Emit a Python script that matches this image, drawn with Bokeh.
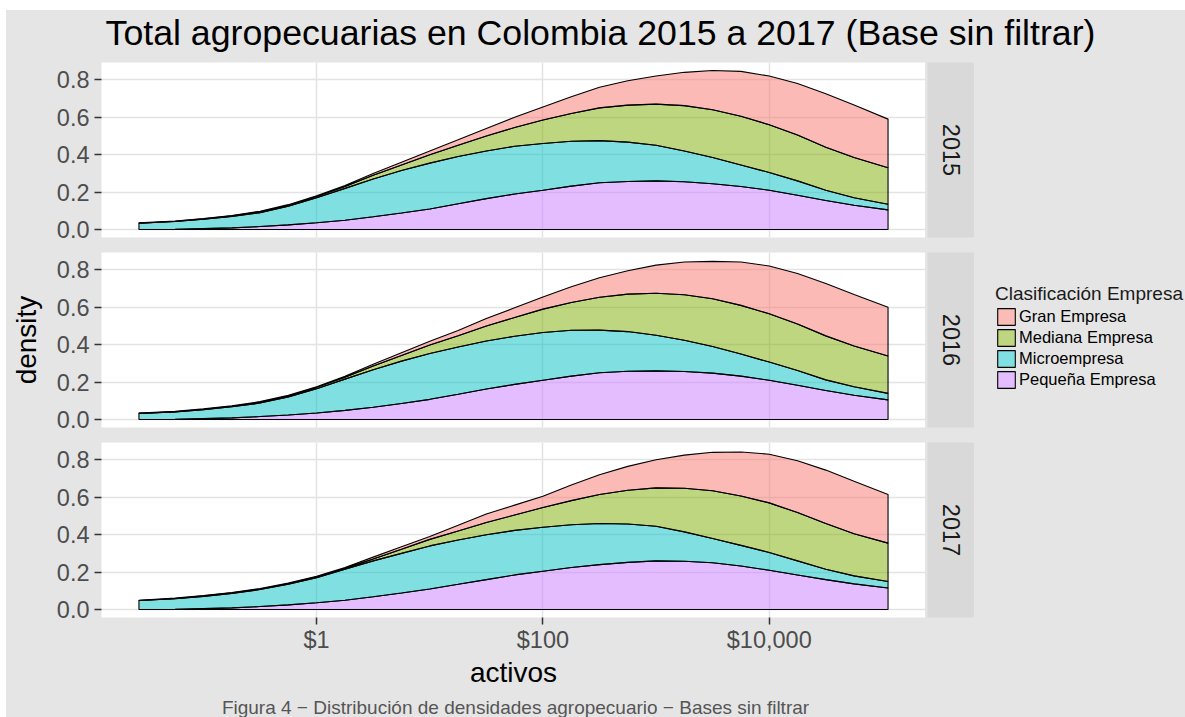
import numpy as np
from math import pi
from bokeh.plotting import figure
from bokeh.models import (Range1d, FixedTicker, NumeralTickFormatter, PrintfTickFormatter,
                          Label, Legend, LegendItem, Grid, Spacer)
from bokeh.layouts import column, row
from bokeh.embed import file_html
from bokeh.resources import INLINE

# ---------------- data ----------------
activos = [0.0269, 0.0562, 0.1, 0.178, 0.316, 0.562, 1, 1.78, 3.16, 5.62, 10, 17.8, 31.6, 56.2,
           100, 178, 316, 562, 1000, 1778, 3162, 5623, 10000, 17783, 31623, 56234, 112202]

years = ["2015", "2016", "2017"]
clases = ["Gran Empresa", "Mediana Empresa", "Microempresa", "Pequeña Empresa"]
colores = ["#F8766D", "#7CAE00", "#00BFC4", "#C77CFF"]
colores_leyenda = ["#FBBBB6", "#BDD67F", "#7FDFE1", "#E3BDFF"]

# densities per class (not stacked)
gran_2015    = [0.002, 0.002, 0.002, 0.002, 0.003, 0.003, 0.003, 0.005, 0.010, 0.015, 0.020, 0.030, 0.040, 0.055,
                0.070, 0.090, 0.110, 0.130, 0.150, 0.178, 0.210, 0.240, 0.260, 0.275, 0.285, 0.280, 0.260]
mediana_2015 = [0.000, 0.001, 0.002, 0.003, 0.005, 0.005, 0.007, 0.010, 0.020, 0.030, 0.045, 0.060, 0.080, 0.100,
                0.125, 0.148, 0.175, 0.198, 0.220, 0.242, 0.255, 0.260, 0.255, 0.245, 0.230, 0.215, 0.195]
micro_2015   = [0.034, 0.042, 0.050, 0.061, 0.074, 0.100, 0.134, 0.170, 0.202, 0.227, 0.245, 0.252, 0.255, 0.255,
                0.250, 0.240, 0.225, 0.210, 0.190, 0.165, 0.140, 0.115, 0.095, 0.077, 0.055, 0.040, 0.030]
pequena_2015 = [0.000, 0.001, 0.005, 0.009, 0.016, 0.025, 0.036, 0.050, 0.068, 0.088, 0.110, 0.138, 0.165, 0.190,
                0.210, 0.232, 0.250, 0.257, 0.260, 0.255, 0.245, 0.230, 0.210, 0.183, 0.155, 0.130, 0.105]

gran_2016    = [0.002, 0.002, 0.002, 0.002, 0.003, 0.003, 0.003, 0.005, 0.010, 0.015, 0.020, 0.028, 0.040, 0.052,
                0.065, 0.085, 0.105, 0.125, 0.150, 0.175, 0.200, 0.232, 0.255, 0.270, 0.280, 0.275, 0.260]
mediana_2016 = [0.000, 0.001, 0.002, 0.003, 0.005, 0.005, 0.007, 0.010, 0.020, 0.030, 0.045, 0.060, 0.080, 0.100,
                0.125, 0.148, 0.175, 0.200, 0.225, 0.243, 0.255, 0.260, 0.258, 0.248, 0.235, 0.218, 0.200]
micro_2016   = [0.033, 0.040, 0.048, 0.059, 0.072, 0.097, 0.130, 0.167, 0.200, 0.226, 0.245, 0.253, 0.257, 0.257,
                0.255, 0.245, 0.228, 0.212, 0.190, 0.167, 0.142, 0.118, 0.097, 0.079, 0.057, 0.045, 0.035]
pequena_2016 = [0.000, 0.001, 0.005, 0.009, 0.016, 0.024, 0.035, 0.049, 0.066, 0.086, 0.108, 0.135, 0.163, 0.188,
                0.210, 0.232, 0.250, 0.258, 0.260, 0.257, 0.248, 0.232, 0.210, 0.183, 0.155, 0.130, 0.105]

gran_2017    = [0.002, 0.002, 0.002, 0.002, 0.002, 0.002, 0.003, 0.005, 0.010, 0.013, 0.015, 0.030, 0.045, 0.053,
                0.060, 0.083, 0.105, 0.128, 0.150, 0.177, 0.205, 0.235, 0.260, 0.277, 0.285, 0.280, 0.260]
mediana_2017 = [0.000, 0.001, 0.003, 0.003, 0.003, 0.004, 0.005, 0.005, 0.010, 0.022, 0.035, 0.048, 0.065, 0.082,
                0.105, 0.129, 0.155, 0.180, 0.205, 0.233, 0.255, 0.264, 0.265, 0.258, 0.245, 0.225, 0.205]
micro_2017   = [0.048, 0.057, 0.065, 0.077, 0.091, 0.110, 0.134, 0.165, 0.192, 0.212, 0.230, 0.237, 0.240, 0.238,
                0.235, 0.228, 0.220, 0.205, 0.185, 0.157, 0.130, 0.110, 0.095, 0.075, 0.055, 0.043, 0.035]
pequena_2017 = [0.000, 0.001, 0.005, 0.009, 0.016, 0.025, 0.036, 0.050, 0.068, 0.088, 0.110, 0.135, 0.160, 0.185,
                0.205, 0.225, 0.240, 0.252, 0.260, 0.258, 0.250, 0.233, 0.210, 0.185, 0.160, 0.137, 0.115]

datos = {
    "2015": [gran_2015, mediana_2015, micro_2015, pequena_2015],
    "2016": [gran_2016, mediana_2016, micro_2016, pequena_2016],
    "2017": [gran_2017, mediana_2017, micro_2017, pequena_2017],
}

y_ticks = [0.0, 0.2, 0.4, 0.6, 0.8]
x_ticks = [1, 100, 10000]

titulo = "Total agropecuarias en Colombia 2015 a 2017 (Base sin filtrar)"
leyenda_titulo = "Clasificación Empresa"
pie = "Figura 4 \u2212 Distribución de densidades agropecuario \u2212 Bases sin filtrar"

# ---------------- layout constants ----------------
BG = "#E5E5E5"
STRIP = "#D9D9D9"
FONT = "Liberation Sans"
TOP_PAD = 10
LEFT_PAD = 6
W = 1185 - LEFT_PAD
PANEL_W = 824
LEFT = 95
PANEL_H = 175
GAP = 15
BOTTOM = 79
TITLE_H = 52
STRIP_W = 49
CAP_H = 21

lx = np.log10(activos)
span = lx.max() - lx.min()
XMIN = 10 ** (lx.min() - 0.05 * span)
XMAX = 10 ** (lx.max() + 0.05 * span)
YMIN, YMAX = -0.0425, 0.8925

BG_STYLE = {"background-color": BG}


def style_blank(p, fill=BG):
    p.background_fill_color = fill
    p.border_fill_color = BG
    p.outline_line_color = None
    p.grid.visible = False


def style_axis(ax):
    ax.axis_line_color = None
    ax.major_tick_line_color = "#333333"
    ax.major_tick_line_width = 1.5
    ax.major_tick_out = 7
    ax.major_tick_in = 0
    ax.minor_tick_line_color = None
    ax.major_label_text_font = FONT
    ax.major_label_text_font_size = "23.5px"
    ax.major_label_text_color = "#4D4D4D"
    ax.axis_label_text_font = FONT
    ax.axis_label_text_font_size = "28px"
    ax.axis_label_text_font_style = "normal"
    ax.axis_label_text_color = "black"


def make_panel(year, bottom=False, ylabel=None):
    bb = BOTTOM if bottom else GAP
    p = figure(width=LEFT + PANEL_W, height=PANEL_H + bb, x_axis_type="log",
               x_axis_location="below" if bottom else None,
               x_range=Range1d(XMIN, XMAX), y_range=Range1d(YMIN, YMAX),
               output_backend="svg", toolbar_location=None, title=None,
               min_border_left=LEFT, min_border_right=0, min_border_top=0,
               min_border_bottom=bb, styles=BG_STYLE)
    p.background_fill_color = "white"
    p.border_fill_color = BG
    p.outline_line_color = None

    if len(p.xgrid) == 0:
        p.add_layout(Grid(dimension=0, ticker=FixedTicker(ticks=x_ticks)), "center")
    p.xgrid.ticker = FixedTicker(ticks=x_ticks)
    p.ygrid.ticker = FixedTicker(ticks=y_ticks)
    for g in (p.xgrid, p.ygrid):
        g.grid_line_color = "#E3E3E3"
        g.grid_line_width = 1.5

    ya = p.yaxis
    ya.ticker = FixedTicker(ticks=y_ticks, minor_ticks=[])
    ya.formatter = PrintfTickFormatter(format="%.1f")
    style_axis(ya)
    ya.major_label_standoff = 5
    if ylabel:
        ya.axis_label = ylabel
        ya.axis_label_standoff = 12

    if bottom:
        xa = p.xaxis
        xa.ticker = FixedTicker(ticks=x_ticks, minor_ticks=[])
        xa.formatter = NumeralTickFormatter(format="$0,0")
        style_axis(xa)
        xa.major_label_standoff = 2
        xa.axis_label = "activos"
        xa.axis_label_standoff = 1

    # stacked densities: bottom -> top = Pequeña, Micro, Mediana, Gran
    series = datos[year]
    base = np.zeros(len(activos))
    xs = list(activos) + list(activos[::-1])
    for i in [3, 2, 1, 0]:
        top = base + np.array(series[i])
        ys = list(top) + list(base[::-1])
        p.patch(xs, ys, fill_color=colores[i], fill_alpha=0.5,
                line_color="black", line_width=1.1)
        base = top
    return p


def make_strip(year, bottom=False):
    bb = BOTTOM if bottom else GAP
    s = figure(width=STRIP_W, height=PANEL_H + bb, x_range=Range1d(0, 1), y_range=Range1d(0, 1),
               output_backend="svg", toolbar_location=None, title=None,
               x_axis_location=None, y_axis_location=None,
               min_border_left=2, min_border_right=0, min_border_top=0, min_border_bottom=bb,
               styles=BG_STYLE)
    style_blank(s, STRIP)
    s.add_layout(Label(x=0.5, y=0.5, text=year, angle=-pi / 2, text_align="center",
                       text_baseline="middle", text_font=FONT, text_font_size="23.5px",
                       text_color="#1A1A1A"))
    return s


p1 = make_panel("2015")
p2 = make_panel("2016", ylabel="density")
p3 = make_panel("2017", bottom=True)
s1 = make_strip("2015")
s2 = make_strip("2016")
s3 = make_strip("2017", bottom=True)

body_h = 2 * (PANEL_H + GAP) + PANEL_H + BOTTOM
legend_w = W - (LEFT + PANEL_W) - STRIP_W

lg = figure(width=legend_w, height=body_h, x_range=Range1d(0, 1), y_range=Range1d(0, 1),
            output_backend="svg", toolbar_location=None, title=None,
            x_axis_location=None, y_axis_location=None, min_border=0, styles=BG_STYLE)
style_blank(lg)
rends = []
for c in colores_leyenda:
    rends.append(lg.patch(x=np.array([np.nan]), y=np.array([np.nan]), fill_color=c,
                          line_color="black", line_width=1.1))
legend = Legend(items=[LegendItem(label=lab, renderers=[r]) for lab, r in zip(clases, rends)],
                location=(21, 306), title=leyenda_titulo,
                title_text_font=FONT, title_text_font_size="19px", title_text_font_style="normal",
                title_text_color="#1A1A1A", title_standoff=1,
                label_text_font=FONT, label_text_font_size="16.5px", label_text_color="black",
                background_fill_alpha=0, border_line_color=None, padding=0, margin=0, spacing=0,
                glyph_width=22, glyph_height=21, label_height=21, label_standoff=2)
lg.add_layout(legend, "center")

tf = figure(width=W, height=TITLE_H, x_range=Range1d(0, 1), y_range=Range1d(0, 1),
            output_backend="svg", toolbar_location=None, title=None,
            x_axis_location=None, y_axis_location=None, min_border=0, styles=BG_STYLE)
style_blank(tf)
tf.add_layout(Label(x=(600 - LEFT_PAD) / W, y=30 / TITLE_H, text=titulo, text_align="center",
                    text_baseline="middle", text_font=FONT, text_font_size="35.7px",
                    text_color="black"))

cf = figure(width=W, height=CAP_H, x_range=Range1d(0, 1), y_range=Range1d(0, 1),
            output_backend="svg", toolbar_location=None, title=None,
            x_axis_location=None, y_axis_location=None, min_border=0, styles=BG_STYLE)
style_blank(cf)
cf.add_layout(Label(x=(515 - LEFT_PAD) / W, y=0.5, text=pie, text_align="center",
                    text_baseline="middle", text_font=FONT, text_font_size="19px",
                    text_color="#555555"))

col_panels = column(p1, p2, p3, styles=BG_STYLE)
col_strips = column(s1, s2, s3, styles=BG_STYLE)
body = row(col_panels, col_strips, lg, styles=BG_STYLE)
content = column(tf, body, cf, styles=BG_STYLE)
total_h = TITLE_H + body_h + CAP_H
layout = column(Spacer(width=1185, height=TOP_PAD),
                row(Spacer(width=LEFT_PAD, height=total_h), content))

open("out.html", "w").write(file_html(layout, INLINE, title="Total agropecuarias"))
